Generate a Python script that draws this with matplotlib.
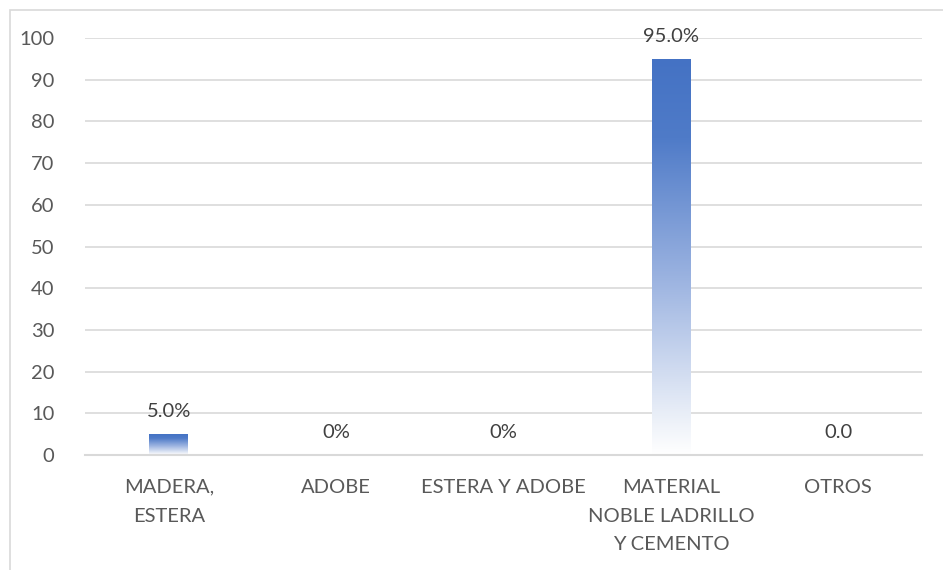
import numpy as np
import matplotlib.pyplot as plt
from matplotlib.patches import Rectangle
from matplotlib.colors import LinearSegmentedColormap

categories = ['MADERA,\nESTERA', 'ADOBE', 'ESTERA Y ADOBE',
              'MATERIAL\nNOBLE LADRILLO\nY CEMENTO', 'OTROS']
values = [5.0, 0, 0, 95.0, 0]
value_labels = ['5.0%', '0%', '0%', '95.0%', '0.0']
yticks = [0, 10, 20, 30, 40, 50, 60, 70, 80, 90, 100]

plt.rcParams['font.family'] = ['Lato', 'DejaVu Sans']
text_color = '#595959'
grid_color = '#D9D9D9'

fig = plt.figure(figsize=(9.43, 5.70), dpi=100)
ax = fig.add_axes([85/943, 115/570, (922-85)/943, (455-38)/570])

# chart border (only left and top visible in reference)
fig.patches.append(Rectangle((10/943, -0.1), 1.2, (560/570) + 0.1, transform=fig.transFigure,
                             fill=False, edgecolor='#D9D9D9', linewidth=1.2))

x = np.arange(len(categories))
bar_w = 0.23
bars = ax.bar(x, values, width=bar_w, color='none', edgecolor='none')

# vertical gradient: solid blue on top, fading to white at the base
cmap = LinearSegmentedColormap.from_list('grad', [(0.0, '#FFFFFF'), (0.08, '#EEF2F9'),
                                                   (0.45, '#9AB2E0'), (0.8, '#4F7BC8'),
                                                   (1.0, '#4472C4')])
grad = np.linspace(0, 1, 256).reshape(-1, 1)
for b in bars:
    h = b.get_height()
    if h <= 0:
        continue
    x0 = b.get_x()
    im = ax.imshow(grad, extent=[x0, x0 + b.get_width(), 0, h], origin='lower',
                   cmap=cmap, aspect='auto', zorder=2)
    im.set_clip_path(b)

for xi, v, lab in zip(x, values, value_labels):
    ax.annotate(lab, (xi, v), xytext=(0, 10), textcoords='offset points',
                ha='center', va='bottom', fontsize=14.5, color='#404040')

ax.set_xlim(-0.5, len(categories) - 0.5)
ax.set_ylim(0, 100)
ax.set_yticks(yticks)
ax.set_xticks(x)
ax.set_xticklabels(categories, linespacing=1.85)
ax.grid(axis='y', color=grid_color, linewidth=1.2, zorder=0)
ax.set_axisbelow(True)
for s in ['top', 'right', 'left']:
    ax.spines[s].set_visible(False)
ax.spines['bottom'].set_color(grid_color)
ax.spines['bottom'].set_linewidth(1.5)
ax.tick_params(axis='both', length=0, labelsize=14.5, colors=text_color)
ax.tick_params(axis='y', pad=22)
ax.tick_params(axis='x', pad=17)

fig.savefig('out.png', dpi=100)
